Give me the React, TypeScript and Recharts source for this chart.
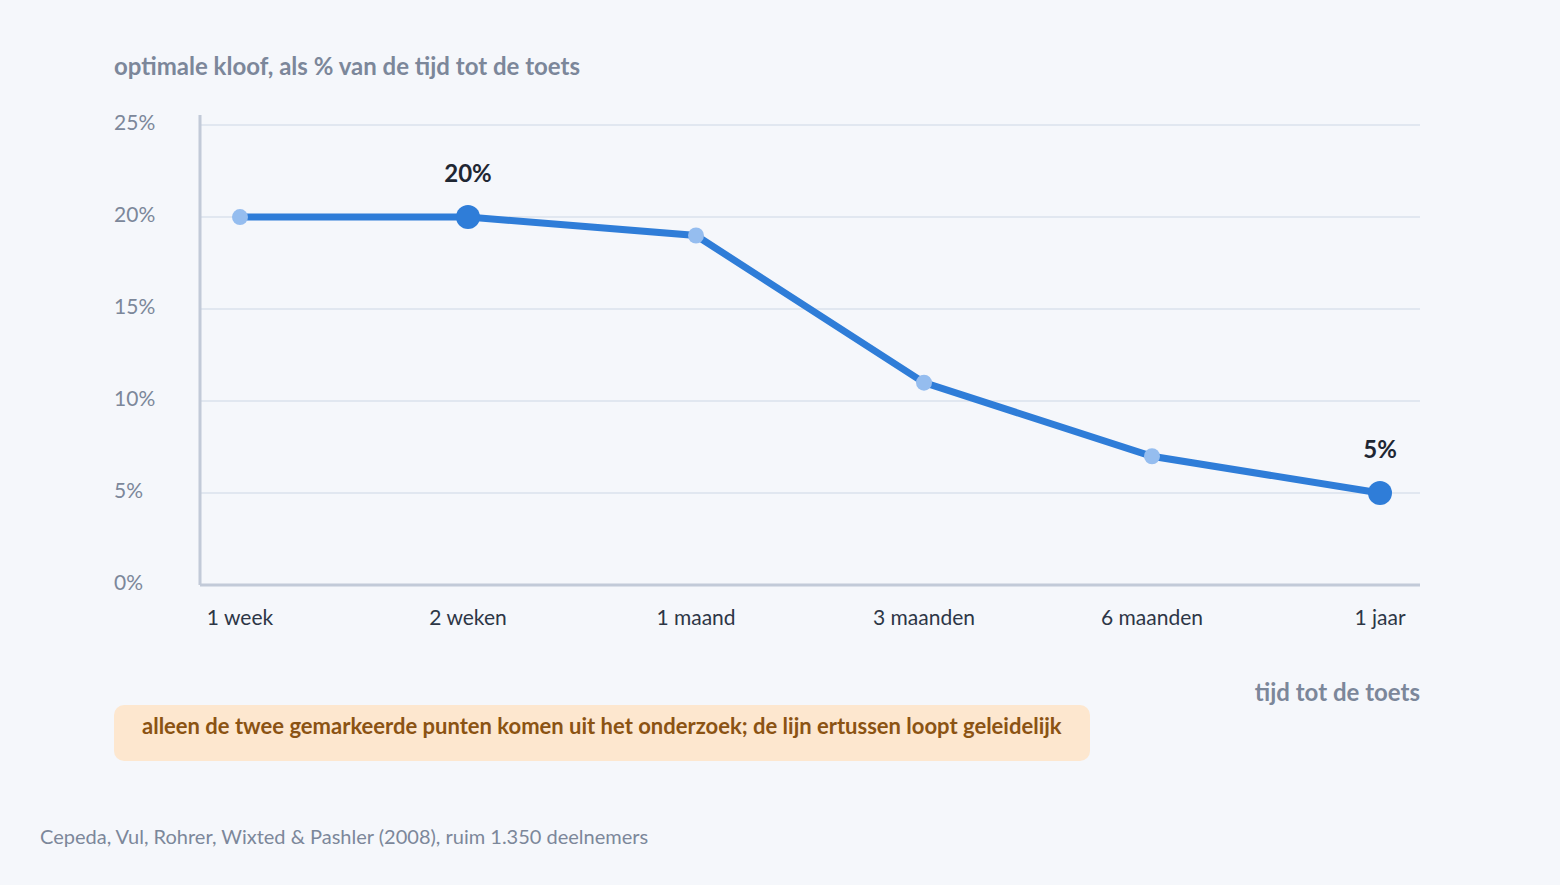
import React from 'react';
import {
  LineChart,
  Line,
  XAxis,
  YAxis,
  CartesianGrid,
  LabelList,
} from 'recharts';

// tijd tot de toets
const categories = ['1 week', '2 weken', '1 maand', '3 maanden', '6 maanden', '1 jaar'];
// optimale kloof in % van de tijd tot de toets
const gapPct = [20, 20, 19, 11, 7, 5];
// alleen deze punten komen uit het onderzoek
const measured = [false, true, false, false, false, true];
const yTicks = [0, 5, 10, 15, 20, 25];

const data = categories.map((c, i) => ({ name: c, gap: gapPct[i], measured: measured[i] }));

const font = 'Lato, "Noto Sans", sans-serif';
const bg = '#f5f7fb';
const muted = '#7c879a';
const lineColor = '#2f7dd8';
const lightDot = '#95bdef';

const YTick = (props: any) => {
  const { x, y, payload } = props;
  return (
    <text x={x - 86} y={y - 4} textAnchor="start" dominantBaseline="central"
      fill={muted} fontSize={21} fontFamily={font}>
      {payload.value}%
    </text>
  );
};

const XTick = (props: any) => {
  const { x, y, payload } = props;
  return (
    <text x={x} y={y + 31} textAnchor="middle" dominantBaseline="central"
      fill="#2d3646" fontSize={21} fontFamily={font}>
      {payload.value}
    </text>
  );
};

const Dot = (props: any) => {
  const { cx, cy, payload, index } = props;
  if (payload.measured) {
    return <circle key={index} cx={cx} cy={cy} r={12} fill={lineColor} />;
  }
  return <circle key={index} cx={cx} cy={cy} r={8} fill={lightDot} />;
};

const PointLabel = (props: any) => {
  const { x, y, value, index } = props;
  if (!measured[index]) return null;
  return (
    <text x={x} y={y - 45} textAnchor="middle" dominantBaseline="central"
      fill="#1f2733" fontSize={24} fontWeight={700} fontFamily={font}>
      {value}%
    </text>
  );
};

export default function App() {
  return (
    <div style={{ position: 'absolute', left: 0, top: 0, width: 1560, height: 885, background: bg, fontFamily: font }}>
      <div style={{ position: 'absolute', left: 114, top: 52, fontSize: 24, lineHeight: '28px', fontWeight: 700, color: muted }}>
        optimale kloof, als % van de tijd tot de toets
      </div>
      <LineChart width={1560} height={885} data={data}
        margin={{ top: 115, right: 140, bottom: 260, left: 114 }}>
        <CartesianGrid vertical={false} syncWithTicks stroke="#e1e7f0" strokeWidth={2} />
        <XAxis dataKey="name" padding={{ left: 40, right: 40 }} height={40}
          axisLine={{ stroke: '#c2cad8', strokeWidth: 3 }} tickLine={false}
          tickSize={0} tickMargin={0} tick={<XTick />} interval={0} />
        <YAxis domain={[0, 25.55]} ticks={yTicks} width={86}
          axisLine={{ stroke: '#c2cad8', strokeWidth: 3 }} tickLine={false}
          tickSize={0} tickMargin={0} tick={<YTick />} />
        <Line type="linear" dataKey="gap" stroke={lineColor} strokeWidth={7}
          dot={<Dot />} activeDot={false} isAnimationActive={false}>
          <LabelList dataKey="gap" content={<PointLabel />} />
        </Line>
      </LineChart>
      <div style={{ position: 'absolute', right: 140, top: 678, fontSize: 24, lineHeight: '28px', fontWeight: 700, color: muted }}>
        tijd tot de toets
      </div>
      <div style={{ position: 'absolute', left: 114, top: 705, width: 976, height: 56, boxSizing: 'border-box',
        background: '#fde7cf', borderRadius: 10, padding: '8px 0 0 28px', fontSize: 22, lineHeight: '26px', fontWeight: 700, color: '#8b5313' }}>
        alleen de twee gemarkeerde punten komen uit het onderzoek; de lijn ertussen loopt geleidelijk
      </div>
      <div style={{ position: 'absolute', left: 40, top: 824, fontSize: 20, lineHeight: '24px', color: muted }}>
        Cepeda, Vul, Rohrer, Wixted &amp; Pashler (2008), ruim 1.350 deelnemers
      </div>
    </div>
  );
}
